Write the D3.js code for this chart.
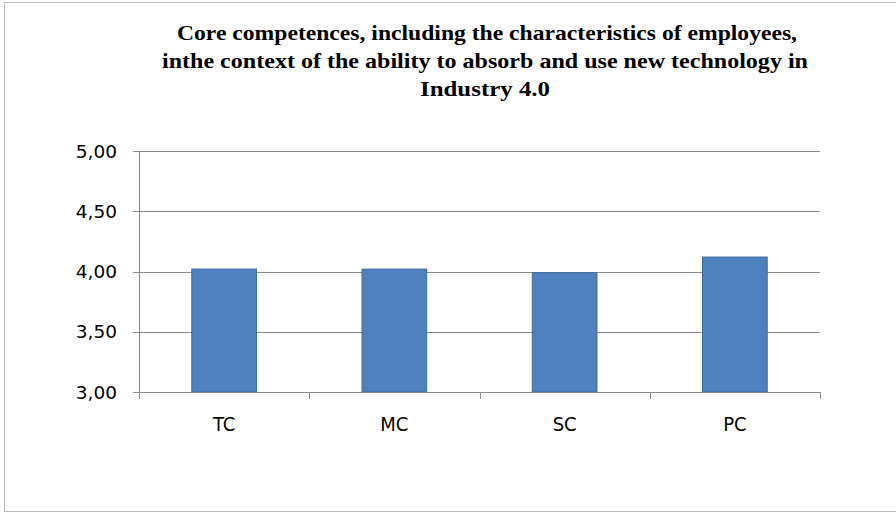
<!DOCTYPE html>
<html>
<head>
<meta charset="utf-8">
<script src="https://cdn.jsdelivr.net/npm/d3@7"></script>
<style>
  body { margin: 0; background: #fff; }
  svg { display: block; }
</style>
</head>
<body>
<svg id="chart" width="896" height="514"></svg>
<script>
// values
let categories = ["TC", "MC", "SC", "PC"];
let values = [4.02, 4.02, 3.99, 4.12];
let yTicks = [3.0, 3.5, 4.0, 4.5, 5.0];
let titleLines = [
    "Core competences,  including the characteristics of employees,",
    "inthe context  of the ability to absorb  and  use new technology  in",
    "Industry  4.0"
];

let width = 896, height = 514;
let plotLeft = 139, plotRight = 820, plotTop = 151, plotBottom = 392;

let svg = d3.select("#chart");

// outer frame
svg.append("rect")
    .attr("x", 4.5).attr("y", 2.5)
    .attr("width", 900).attr("height", 509)
    .attr("fill", "none")
    .attr("stroke", "#bfbfbf")
    .attr("stroke-width", 1);

let xScale = d3.scaleBand()
    .domain(categories)
    .range([plotLeft, plotRight])
    .paddingInner(0.62)
    .paddingOuter(0.31);

let yScale = d3.scaleLinear()
    .domain([3, 5])
    .range([plotBottom, plotTop]);

// gridlines
svg.selectAll(".grid")
    .data(yTicks)
    .enter()
    .append("line")
    .attr("x1", plotLeft - 6)
    .attr("x2", plotRight)
    .attr("y1", d => Math.round(yScale(d)) + 0.5)
    .attr("y2", d => Math.round(yScale(d)) + 0.5)
    .attr("stroke", "#8c8c8c")
    .attr("stroke-width", 1);

// y labels
svg.selectAll(".ylab")
    .data(yTicks)
    .enter()
    .append("text")
    .attr("x", 117)
    .attr("y", d => yScale(d))
    .attr("dy", "0.36em")
    .attr("text-anchor", "end")
    .style("font-family", "DejaVu Sans, Verdana, sans-serif")
    .style("font-size", "18.5px")
    .style("fill", "#000")
    .text(d => d3.format(".2f")(d).replace(".", ","));

// bars
svg.selectAll(".bar")
    .data(categories)
    .enter()
    .append("rect")
    .attr("x", d => xScale(d))
    .attr("y", (d, i) => yScale(values[i]))
    .attr("width", xScale.bandwidth())
    .attr("height", (d, i) => yScale(3) - yScale(values[i]))
    .attr("fill", "#4f81bd")
    .attr("stroke", "#3e6b9f")
    .attr("stroke-width", 1);

// y axis line
svg.append("line")
    .attr("x1", plotLeft + 0.5).attr("x2", plotLeft + 0.5)
    .attr("y1", plotTop).attr("y2", plotBottom + 6)
    .attr("stroke", "#8c8c8c");

// x axis line + category ticks
svg.append("line")
    .attr("x1", plotLeft).attr("x2", plotRight)
    .attr("y1", Math.round(plotBottom) + 0.5).attr("y2", Math.round(plotBottom) + 0.5)
    .attr("stroke", "#8c8c8c");

let tickXs = d3.range(categories.length + 1).map(i => plotLeft + (plotRight - plotLeft) * i / categories.length);
svg.selectAll(".xtick")
    .data(tickXs)
    .enter()
    .append("line")
    .attr("x1", d => Math.round(d) + 0.5)
    .attr("x2", d => Math.round(d) + 0.5)
    .attr("y1", plotBottom)
    .attr("y2", plotBottom + 7)
    .attr("stroke", "#8c8c8c");

// category labels
svg.selectAll(".xlab")
    .data(categories)
    .enter()
    .append("text")
    .attr("x", d => xScale(d) + xScale.bandwidth() / 2)
    .attr("y", 431)
    .attr("text-anchor", "middle")
    .style("font-family", "DejaVu Sans Condensed, DejaVu Sans, sans-serif")
    .style("font-stretch", "condensed")
    .style("font-size", "20px")
    .style("fill", "#000")
    .text(d => d);

// title
let titleWidths = [620, 646, 130];
let titleCenters = [487, 485, 485];
titleLines.forEach(function(line, i) {
    svg.append("text")
        .attr("x", titleCenters[i])
        .attr("y", 40 + i * 28)
        .attr("text-anchor", "middle")
        .attr("textLength", titleWidths[i])
        .attr("lengthAdjust", "spacingAndGlyphs")
        .style("font-family", "Liberation Serif, Times New Roman, serif")
        .style("font-weight", "bold")
        .style("font-size", "22px")
        .style("fill", "#000")
        .text(line);
});
</script>
</body>
</html>
